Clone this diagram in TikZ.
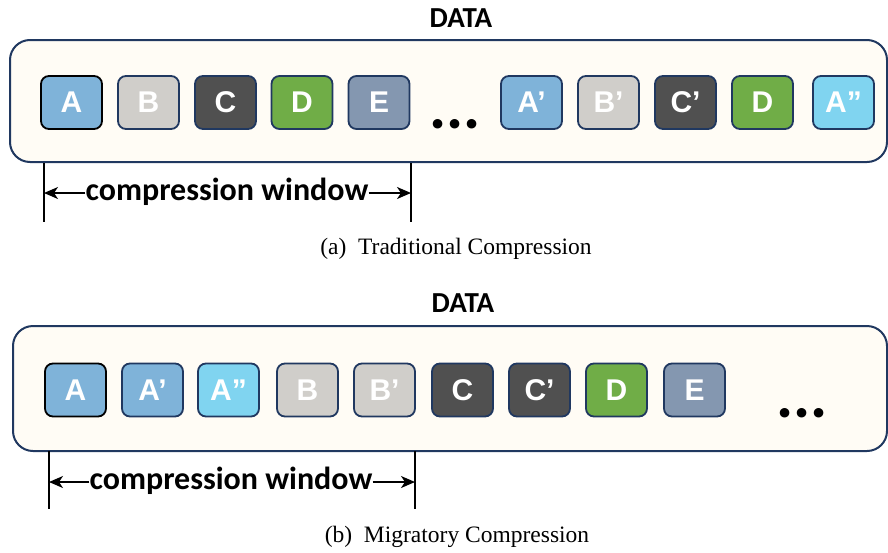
\documentclass[tikz,border=0pt]{standalone}
\usepackage{fontspec}
\setmainfont{Liberation Serif}
\newfontfamily\calibold[BoldFont={* Bold}]{Carlito}
\newfontfamily\arialbold{Liberation Sans Bold}
\usepackage{xcolor}
\usepackage{tikz}
\usetikzlibrary{arrows.meta}

\definecolor{boxnavy}{HTML}{203860}
\definecolor{boxcream}{HTML}{FFFCF5}
\definecolor{blkA}{HTML}{7FB3D9}
\definecolor{blkAA}{HTML}{80D4F0}
\definecolor{blkB}{HTML}{D0CECA}
\definecolor{blkC}{HTML}{505050}
\definecolor{blkD}{HTML}{70AD47}
\definecolor{blkE}{HTML}{8497B0}

\tikzset{
	blk/.style={draw=boxnavy, line width=1.8pt, rounded corners=8pt,
		minimum width=61pt, minimum height=53pt, inner sep=0pt,
		text=white, font=\arialbold\fontsize{30}{30}\selectfont},
	databox/.style={draw=boxnavy, line width=2pt, fill=boxcream, rounded corners=20pt},
	title/.style={font=\calibold\bfseries\fontsize{29}{29}\selectfont, anchor=base},
	dots/.style={font=\calibold\bfseries\fontsize{64}{64}\selectfont, anchor=base},
	winlabel/.style={font=\calibold\bfseries\fontsize{32}{32}\selectfont, anchor=base, inner sep=0pt},
	winarrow/.style={-{Stealth[length=14pt, width=12pt, inset=4pt]}, line width=1.6pt},
	tick/.style={line width=1.4pt},
	caption/.style={font=\fontsize{23.5}{23.5}\selectfont, anchor=base}
}

\begin{document}
\begin{tikzpicture}[x=1pt, y=-1pt]
		\useasboundingbox (0,0) rectangle (888,552);

		% (a) traditional
		\node[title] (data1) at (461, 27) {DATA};
		\draw[databox] (10, 40) rectangle (887, 162);
		\node[blk, fill=blkA, draw=black] (a1) at (71.5, 102.5) {A};
		\node[blk, fill=blkB] (b1) at (148.5, 102.5) {B};
		\node[blk, fill=blkC] (c1) at (225.5, 102.5) {C};
		\node[blk, fill=blkD] (d1) at (302, 102.5) {D};
		\node[blk, fill=blkE] (e1) at (379, 102.5) {E};
		\node[dots] (more1) at (455, 128) {...};
		\node[blk, fill=blkA] (a1p) at (531.5, 102.5) {A’};
		\node[blk, fill=blkB] (b1p) at (608.5, 102.5) {B’};
		\node[blk, fill=blkC] (c1p) at (685.5, 102.5) {C’};
		\node[blk, fill=blkD] (d1p) at (762.5, 102.5) {D};
		\node[blk, fill=blkAA] (a1pp) at (843.5, 102.5) {A”};

		\coordinate (w1l) at (44, 193);
		\coordinate (w1r) at (411, 193);
		\draw[tick] (44, 163) -- (44, 222);
		\draw[tick] (411, 163) -- (411, 222);
		\node[winlabel] (win1) at (227, 200) {compression window};
		\draw[winarrow] (win1.west |- w1l) -- (w1l);
		\draw[winarrow] (win1.east |- w1r) -- (w1r);
		\node[caption] (cap1) at (456, 254) {(a)~~Traditional Compression};

		% (b) migratory
		\node[title] (data2) at (463, 312) {DATA};
		\draw[databox] (13, 326) rectangle (887, 451);
		\node[blk, fill=blkA, draw=black] (a2) at (75.5, 390) {A};
		\node[blk, fill=blkA] (a2p) at (152.5, 390) {A’};
		\node[blk, fill=blkAA] (a2pp) at (228.5, 390) {A”};
		\node[blk, fill=blkB] (b2) at (307.5, 390) {B};
		\node[blk, fill=blkB] (b2p) at (384.5, 390) {B’};
		\node[blk, fill=blkC] (c2) at (462.5, 390) {C};
		\node[blk, fill=blkC] (c2p) at (539.5, 390) {C’};
		\node[blk, fill=blkD] (d2) at (616.5, 390) {D};
		\node[blk, fill=blkE] (e2) at (694.5, 390) {E};
		\node[dots] (more2) at (802, 417) {...};

		\coordinate (w2l) at (49, 482);
		\coordinate (w2r) at (415, 482);
		\draw[tick] (49, 451) -- (49, 509);
		\draw[tick] (415, 451) -- (415, 509);
		\node[winlabel] (win2) at (231, 489) {compression window};
		\draw[winarrow] (win2.west |- w2l) -- (w2l);
		\draw[winarrow] (win2.east |- w2r) -- (w2r);
		\node[caption] (cap2) at (457, 542) {(b)~~Migratory Compression};
	\end{tikzpicture}
\end{document}
